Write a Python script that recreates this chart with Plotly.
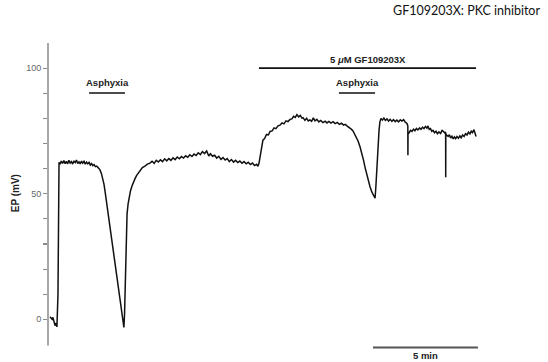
import plotly.graph_objects as go

# Time (min) and endocochlear potential EP (mV)
time_min = [
    0.00, 0.05, 0.10, 0.14, 0.19, 0.24, 0.29, 0.33, 0.38, 0.40, 0.43,
    0.48, 0.54, 0.60, 0.66, 0.72, 0.78, 0.84, 0.90, 0.96, 1.02, 1.08, 1.14, 1.20, 1.26, 1.32,
    1.38, 1.44, 1.50, 1.56, 1.62, 1.68, 1.74, 1.80, 1.86, 1.92, 1.98, 2.04, 2.10, 2.16, 2.22,
    2.30, 2.38, 2.45, 2.52, 2.57, 2.62, 2.67, 2.71, 2.79, 2.86, 2.93, 3.00, 3.10, 3.19, 3.26,
    3.33, 3.43, 3.52,
    3.55, 3.57, 3.60, 3.62, 3.67, 3.72, 3.76, 3.83, 3.90, 3.97, 4.05, 4.12, 4.20, 4.29, 4.40,
    4.52, 4.64, 4.76,
    4.86, 4.96, 5.06, 5.16, 5.26, 5.36, 5.46, 5.56, 5.66, 5.76, 5.86, 5.96, 6.06, 6.16, 6.26,
    6.36, 6.46, 6.56, 6.66, 6.76, 6.86, 6.96, 7.06, 7.16, 7.26, 7.36, 7.46,
    7.56, 7.64, 7.74, 7.84, 7.94, 8.04, 8.14, 8.24, 8.34, 8.44, 8.54, 8.64, 8.74, 8.84, 8.94,
    9.04, 9.14, 9.24, 9.34, 9.44, 9.54, 9.64, 9.74, 9.84, 9.90,
    9.95, 10.00, 10.07, 10.14, 10.22, 10.31, 10.40, 10.48, 10.58, 10.67, 10.76, 10.86, 10.95,
    11.05, 11.14, 11.24, 11.33, 11.43, 11.52, 11.60, 11.68, 11.76, 11.84, 11.92, 12.00, 12.05,
    12.14, 12.22, 12.30, 12.38, 12.46, 12.54, 12.62, 12.71, 12.80, 12.89, 13.00, 13.10, 13.19,
    13.28, 13.38, 13.48, 13.58, 13.68, 13.78, 13.88, 13.98, 14.06, 14.14, 14.22, 14.30, 14.36,
    14.43, 14.50, 14.57, 14.62, 14.67, 14.76, 14.86, 14.93, 15.00, 15.07, 15.14, 15.24, 15.33,
    15.41, 15.48, 15.52, 15.57, 15.62, 15.67, 15.71, 15.76, 15.83, 15.90, 15.97, 16.05, 16.12,
    16.20, 16.28, 16.36, 16.44, 16.52, 16.60, 16.68, 16.76, 16.84, 16.92, 17.00, 17.04, 17.045,
    17.05, 17.10, 17.17, 17.24, 17.31, 17.38, 17.45, 17.52, 17.60, 17.67, 17.74, 17.81, 17.88,
    17.95, 18.00, 18.06, 18.12, 18.18, 18.24, 18.31, 18.38, 18.45, 18.52, 18.60, 18.67, 18.73,
    18.80, 18.84, 18.845, 18.85, 18.90, 18.96, 19.02, 19.08, 19.14, 19.20, 19.26, 19.32, 19.38,
    19.45, 19.52, 19.58, 19.65, 19.72, 19.79, 19.86, 19.93, 20.00, 20.06, 20.12, 20.19, 20.24,
    20.29,
]
ep_mv = [
    1.0, 0.2, 0.0, 0.8, -0.5, -2.5, -1.5, -3.0, 10.0, 40.0, 62.5,
    61.8, 63.0, 62.1, 63.2, 62.0, 62.9, 61.9, 63.3, 62.2, 62.8, 61.8, 63.1, 62.4, 63.4, 62.0,
    62.7, 61.9, 63.0, 62.2, 62.9, 61.8, 62.6, 61.9, 62.5, 61.4, 62.0, 61.2, 61.6, 60.8, 61.0,
    60.3, 59.5, 58.0, 56.0, 53.8, 51.0, 48.0, 45.0, 40.5, 36.0, 31.5, 27.0, 21.5, 17.0, 12.5,
    8.0, 2.5, -3.2,
    2.0, 10.0, 22.0, 30.0, 42.0, 46.0, 48.0, 51.0, 53.0, 54.8, 56.0, 57.2, 58.0, 59.2, 60.4,
    61.0, 61.8, 62.2,
    62.9, 62.1, 63.3, 62.6, 63.5, 62.8, 63.9, 63.1, 64.0, 63.3, 64.3, 63.6, 64.6, 63.9, 64.8,
    64.2, 65.1, 64.5, 65.5, 64.8, 65.8, 65.2, 66.3, 65.6, 66.8, 66.0, 67.0,
    65.0, 65.9, 64.9, 65.3, 64.2, 64.9, 63.7, 64.4, 63.4, 64.0, 62.8, 63.6, 62.6, 63.3, 62.4,
    63.0, 62.1, 62.8, 61.9, 62.5, 61.6, 62.2, 61.2, 61.7, 60.9,
    62.0, 64.5, 68.5, 71.3, 72.0, 73.6, 73.4, 74.8, 75.0, 76.2, 75.9, 77.0, 77.3,
    78.2, 77.8, 79.0, 78.7, 79.6, 79.8, 80.8, 80.4, 81.5, 80.6, 81.2, 80.1, 80.3,
    79.2, 80.0, 79.0, 79.4, 78.8, 80.2, 79.0, 79.6, 78.6, 79.2, 78.3, 78.9, 78.2,
    78.8, 78.1, 78.7, 77.9, 78.4, 77.6, 78.1, 77.3, 77.6, 77.0, 76.5, 76.2, 75.6,
    75.0, 74.0, 73.0, 72.2, 71.0, 68.8, 66.0, 63.4, 60.6, 58.0, 55.4, 52.8, 50.6,
    49.0, 48.2, 53.0, 62.0, 70.0, 75.3, 78.5, 80.0, 79.3, 80.1, 79.2, 79.8, 78.9,
    79.6, 78.8, 79.5, 78.7, 79.3, 78.6, 79.4, 78.9, 79.5, 78.5, 78.0, 77.0, 65.3,
    73.8, 74.3, 75.2, 74.8, 75.7, 75.1, 76.0, 75.4, 76.2, 75.6, 76.5, 75.9, 76.8,
    76.1, 77.0, 75.6, 75.9, 74.8, 75.2, 74.3, 74.9, 73.9, 74.6, 74.0, 75.2, 74.8,
    74.2, 74.6, 56.6, 73.8, 73.3, 72.8, 73.5, 72.2, 72.9, 71.8, 72.6, 71.9, 72.8,
    72.1, 73.0, 72.3, 73.4, 72.8, 73.9, 73.4, 74.5, 73.8, 74.9, 74.3, 75.5, 74.4,
    72.8,
]

# Y axis ticks
y_tick_vals = [0, 10, 20, 30, 40, 50, 60, 70, 80, 90, 100]
y_tick_text = ["0", "", "", "", "", "50", "", "", "", "", "100"]

# Treatment periods (min)
asphyxia_periods = [(1.86, 3.57), (13.76, 15.48)]
drug_period = (9.95, 20.29)
scale_bar = (15.38, 20.38)  # 5 min

fig = go.Figure()
fig.add_trace(go.Scatter(
    x=time_min, y=ep_mv, mode="lines",
    line=dict(color="#111111", width=1.5),
    hoverinfo="skip", showlegend=False,
))

shapes = []
# y-axis line
shapes.append(dict(type="line", xref="paper", yref="y", x0=0, x1=0, y0=-10.4, y1=110,
                   line=dict(color="#8a8a8a", width=1.5)))
# drug bar
shapes.append(dict(type="line", xref="x", yref="y", x0=drug_period[0], x1=drug_period[1],
                   y0=100.0, y1=100.0, line=dict(color="#111111", width=1.6)))
# asphyxia bars
for a, b in asphyxia_periods:
    shapes.append(dict(type="line", xref="x", yref="y", x0=a, x1=b, y0=90.1, y1=90.1,
                       line=dict(color="#111111", width=1.6)))
# scale bar
shapes.append(dict(type="line", xref="x", yref="y", x0=scale_bar[0], x1=scale_bar[1],
                   y0=-11.2, y1=-11.2, line=dict(color="#555555", width=2)))

bold = dict(family="Liberation Sans, Arial, sans-serif", size=9.5, color="#222222", weight="bold")
annotations = []
for a, b in asphyxia_periods:
    annotations.append(dict(x=(a + b) / 2, y=94.1, xref="x", yref="y", text="Asphyxia",
                            showarrow=False, font=bold, xanchor="center", yanchor="middle"))
annotations.append(dict(x=15.14, y=103.6, xref="x", yref="y", text="5 <i>μ</i>M GF109203X",
                        showarrow=False, font=bold, xanchor="center", yanchor="middle"))
annotations.append(dict(x=(scale_bar[0] + scale_bar[1]) / 2, y=-0.0129, xref="x", yref="paper",
                        text="5 min", showarrow=False, font=bold,
                        xanchor="center", yanchor="middle"))
annotations.append(dict(x=-0.073, y=50.2, xref="paper", yref="y", text="EP (mV)",
                        textangle=-90, showarrow=False,
                        font=dict(family="Liberation Sans, Arial, sans-serif", size=10,
                                  color="#222222", weight="bold"),
                        xanchor="center", yanchor="middle"))
annotations.append(dict(x=1.093, y=1.1036, xref="paper", yref="paper",
                        text="GF109203X: PKC inhibitor", showarrow=False,
                        font=dict(family="Lato, Open Sans, sans-serif", size=12.5, color="#111111"),
                        xanchor="right", yanchor="middle"))

fig.update_layout(
    width=548, height=362,
    margin=dict(l=48, r=48, t=43, b=10, autoexpand=False),
    paper_bgcolor="white", plot_bgcolor="white",
    shapes=shapes, annotations=annotations,
    xaxis=dict(range=[-0.0952, 21.43], visible=False, fixedrange=True),
    yaxis=dict(range=[-13, 110], showline=False, showgrid=False, zeroline=False,
               ticks="outside", ticklen=4, tickwidth=1.2, tickcolor="#8a8a8a",
               tickvals=y_tick_vals, ticktext=y_tick_text,
               tickfont=dict(family="Liberation Sans, Arial, sans-serif", size=9, color="#666666"),
               fixedrange=True),
    showlegend=False,
)

fig.write_html(
    "out.html",
    config={"displayModeBar": False, "staticPlot": True},
    post_script="document.body.style.margin='0';document.body.style.overflow='hidden';",
)
